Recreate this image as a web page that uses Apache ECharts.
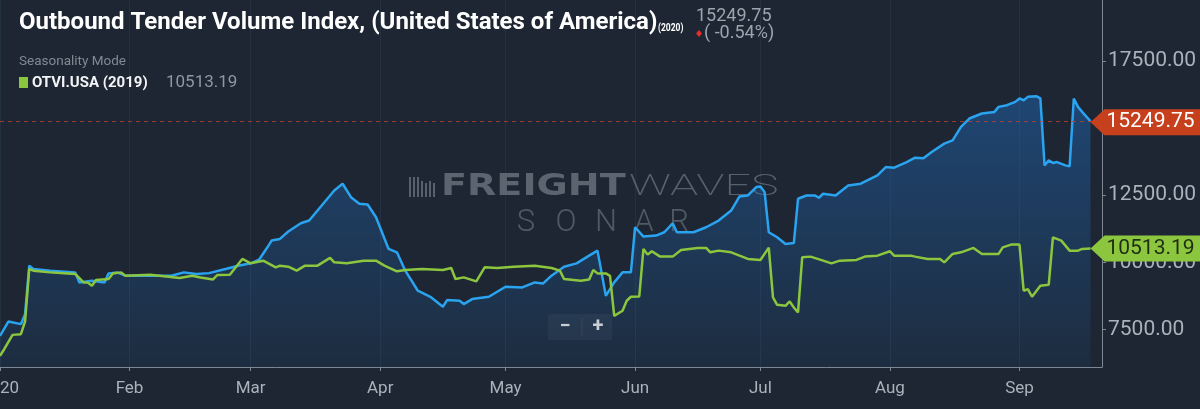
<!DOCTYPE html>
<html>
<head>
<meta charset="utf-8">
<script src="https://cdn.jsdelivr.net/npm/echarts@6/dist/echarts.min.js"></script>
<style>
  html, body { margin: 0; padding: 0; background: #1d2632; }
  #chart { width: 1200px; height: 409px; }
</style>
</head>
<body>
<div id="chart"></div>
<script>
// month labels on the time axis (by month number)
var monthLabels = ['2020', 'Feb', 'Mar', 'Apr', 'May', 'Jun', 'Jul', 'Aug', 'Sep', 'Oct', 'Nov', 'Dec'];
var yTicks = [7500, 10000, 12500, 15000, 17500];

// OTVI.USA 2020
var dates2020 = [
  '2020-01-01','2020-01-03','2020-01-06','2020-01-07','2020-01-08','2020-01-09','2020-01-13','2020-01-19',
  '2020-01-20','2020-01-23','2020-01-26','2020-01-27','2020-01-29','2020-01-31','2020-02-11','2020-02-14',
  '2020-02-17','2020-02-20','2020-02-24','2020-02-27','2020-03-01','2020-03-03','2020-03-05','2020-03-06',
  '2020-03-08','2020-03-10','2020-03-13','2020-03-15','2020-03-18','2020-03-21','2020-03-23','2020-03-25',
  '2020-03-27','2020-03-29','2020-03-31','2020-04-03','2020-04-05','2020-04-07','2020-04-10','2020-04-13',
  '2020-04-16','2020-04-17','2020-04-20','2020-04-21','2020-04-23','2020-04-27','2020-05-01','2020-05-05',
  '2020-05-08','2020-05-10','2020-05-12','2020-05-15','2020-05-18','2020-05-21','2020-05-23','2020-05-25',
  '2020-05-27','2020-05-29','2020-05-31','2020-06-01','2020-06-03','2020-06-06','2020-06-08','2020-06-10',
  '2020-06-11','2020-06-15','2020-06-18','2020-06-21','2020-06-24','2020-06-26','2020-06-28','2020-06-30',
  '2020-07-01','2020-07-02','2020-07-03','2020-07-05','2020-07-07','2020-07-09','2020-07-10','2020-07-12',
  '2020-07-14','2020-07-15','2020-07-16','2020-07-19','2020-07-22','2020-07-25','2020-07-29','2020-07-31',
  '2020-08-02','2020-08-05','2020-08-07','2020-08-09','2020-08-11','2020-08-14','2020-08-16','2020-08-18',
  '2020-08-20','2020-08-23','2020-08-26','2020-08-27','2020-08-29','2020-08-31','2020-09-01','2020-09-02',
  '2020-09-03','2020-09-05','2020-09-06','2020-09-07','2020-09-08','2020-09-09','2020-09-10','2020-09-12',
  '2020-09-13','2020-09-14','2020-09-15','2020-09-16','2020-09-18'
];
var values2020 = [
  7266, 7799, 7702, 8075, 9877, 9754, 9691, 9628,
  9255, 9318, 9255, 9590, 9628, 9505, 9505, 9628,
  9568, 9600, 9754, 9877, 9964, 10100, 10560, 10810,
  10873, 11150, 11456, 11556, 12116, 12676, 12926, 12426,
  12180, 12154, 11680, 10500, 10374, 9691, 8945, 8721,
  8348, 8597, 8572, 8448, 8634, 8721, 9094, 9068,
  9255, 9218, 9505, 9840, 9964, 10250, 10437, 8758,
  9255, 9628, 9628, 11307, 10960, 10997, 11120, 11456,
  11120, 11120, 11307, 11556, 11929, 12452, 12489, 12800,
  12825, 12613, 11120, 10933, 10685, 10720, 12366, 12489,
  12489, 12403, 12552, 12489, 12862, 12926, 13236, 13545,
  13522, 13731, 13895, 13870, 14105, 14418, 14541, 15038,
  15351, 15538, 15597, 15784, 15847, 15970, 16097, 16030,
  16157, 16183, 16100, 13609, 13795, 13700, 13731, 13609,
  13571, 16097, 15784, 15597, 15249.75
];

// OTVI.USA 2019 (seasonality, aligned to 2020 dates)
var dates2019 = [
  '2020-01-01','2020-01-02','2020-01-04','2020-01-06','2020-01-07','2020-01-08','2020-01-09','2020-01-13',
  '2020-01-19','2020-01-21','2020-01-22','2020-01-23','2020-01-24','2020-01-27','2020-01-28','2020-01-30',
  '2020-01-31','2020-02-06','2020-02-13','2020-02-16','2020-02-18','2020-02-21','2020-02-22','2020-02-25',
  '2020-02-28','2020-03-01','2020-03-04','2020-03-07','2020-03-08','2020-03-10','2020-03-12','2020-03-14',
  '2020-03-17','2020-03-20','2020-03-21','2020-03-24','2020-03-28','2020-03-31','2020-04-02','2020-04-05',
  '2020-04-07','2020-04-11','2020-04-16','2020-04-18','2020-04-19','2020-04-21','2020-04-24','2020-04-26',
  '2020-04-29','2020-05-03','2020-05-08','2020-05-12','2020-05-14','2020-05-15','2020-05-19','2020-05-21',
  '2020-05-22','2020-05-23','2020-05-25','2020-05-26','2020-05-27','2020-05-29','2020-05-30','2020-05-31',
  '2020-06-02','2020-06-03','2020-06-04','2020-06-05','2020-06-07','2020-06-10','2020-06-12','2020-06-16',
  '2020-06-18','2020-06-19','2020-06-21','2020-06-24','2020-06-28','2020-07-01','2020-07-03','2020-07-04',
  '2020-07-05','2020-07-07','2020-07-08','2020-07-09','2020-07-10','2020-07-11','2020-07-13','2020-07-16',
  '2020-07-18','2020-07-20','2020-07-24','2020-07-26','2020-07-29','2020-08-01','2020-08-02','2020-08-06',
  '2020-08-07','2020-08-10','2020-08-13','2020-08-14','2020-08-16','2020-08-18','2020-08-21','2020-08-23',
  '2020-08-27','2020-08-28','2020-08-30','2020-09-01','2020-09-02','2020-09-03','2020-09-04','2020-09-06',
  '2020-09-08','2020-09-09','2020-09-11','2020-09-13','2020-09-15','2020-09-16','2020-09-18'
];
var values2019 = [
  6519, 6769, 7303, 7329, 7800, 9754, 9691, 9628,
  9568, 9255, 9255, 9131, 9343, 9380, 9590, 9628,
  9505, 9542, 9418, 9505, 9440, 9366, 9530, 9542,
  10128, 9964, 10064, 9815, 9877, 9840, 9691, 9877,
  9877, 10165, 10001, 9964, 10064, 10064, 9877, 9666,
  9716, 9754, 9716, 9791, 9380, 9442, 9293, 9815,
  9790, 9840, 9877, 9791, 9691, 9380, 9318, 9360,
  9716, 9590, 9590, 9500, 8012, 8199, 8572, 8721,
  8730, 10500, 10288, 10412, 10214, 10214, 10462, 10537,
  10537, 10374, 10437, 10374, 10128, 10091, 10550, 8696,
  8423, 8385, 8546, 8323, 8137, 10187, 10214, 10064,
  9964, 10064, 10091, 10214, 10250, 10412, 10250, 10250,
  10214, 10128, 10128, 10001, 10313, 10374, 10537, 10313,
  10313, 10560, 10661, 10661, 8945, 9007, 8721, 9131,
  9168, 10933, 10810, 10437, 10437, 10500, 10513.19
];

function zip(ds, vs) {
  return ds.map(function (d, i) { return [d, vs[i]]; });
}

var DAY = 24 * 3600 * 1000;
var last2020 = values2020[values2020.length - 1];
var last2019 = values2019[values2019.length - 1];
var tagPath = 'path://M0,13L14,0L112,0L112,26L14,26Z';

var myChart = echarts.init(document.getElementById('chart'));

var option = {
  backgroundColor: '#1d2632',
  animation: false,
  textStyle: { fontFamily: 'Roboto' },
  grid: { left: 0, right: 98, top: 0, bottom: 42, containLabel: false, outerBoundsMode: 'none' },
  xAxis: {
    type: 'time',
    min: '2020-01-01',
    max: '2020-09-20 18:00',
    splitNumber: 9,
    minInterval: 28 * DAY,
    maxInterval: 31 * DAY,
    axisLine: { lineStyle: { color: '#7d8894', width: 1 } },
    axisTick: { show: true, length: 4, lineStyle: { color: '#7d8894' } },
    axisLabel: {
      color: '#aab2bb',
      fontSize: 17,
      margin: 13,
      showMinLabel: true,
      hideOverlap: false,
      formatter: function (val) {
        var d = new Date(val);
        return d.getDate() === 1 ? monthLabels[d.getMonth()] : '';
      }
    },
    splitLine: { show: true, lineStyle: { color: '#243140', width: 1 } }
  },
  yAxis: {
    type: 'value',
    position: 'right',
    min: 6108,
    max: 19760,
    axisLine: { show: true, lineStyle: { color: '#7d8894', width: 1 } },
    axisTick: { show: true, length: 4, lineStyle: { color: '#7d8894' }, customValues: yTicks },
    axisLabel: {
      customValues: yTicks,
      color: '#aab2bb',
      fontSize: 21,
      margin: 6,
      formatter: function (v) { return v.toFixed(2); }
    },
    splitLine: { show: false }
  },
  series: [
    {
      name: 'OTVI.USA (2020)',
      type: 'line',
      data: zip(dates2020, values2020),
      showSymbol: false,
      lineStyle: { color: '#2aa4f0', width: 2.5 },
      itemStyle: { color: '#2aa4f0' },
      areaStyle: {
        origin: 'start',
        color: new echarts.graphic.LinearGradient(0, 0, 0, 1, [
          { offset: 0, color: 'rgba(33,112,200,0.62)' },
          { offset: 1, color: 'rgba(33,112,200,0.13)' }
        ])
      },
      markLine: {
        silent: true,
        symbol: ['none', 'none'],
        label: { show: false },
        lineStyle: { color: 'rgba(196,62,44,0.8)', type: [4, 4], width: 1 },
        data: [{ yAxis: last2020 }]
      },
      markPoint: {
        silent: true,
        symbol: tagPath,
        symbolSize: [112, 26],
        symbolOffset: [56, 1],
        itemStyle: { color: '#c7401d' },
        label: {
          show: true, color: '#ffffff', fontSize: 21, offset: [4, 0],
          formatter: function (p) { return p.value.toFixed(2); }
        },
        data: [{ coord: [dates2020[dates2020.length - 1], last2020], value: last2020 }]
      },
      z: 2
    },
    {
      name: 'OTVI.USA (2019)',
      type: 'line',
      data: zip(dates2019, values2019),
      showSymbol: false,
      lineStyle: { color: '#8cc63f', width: 2.5 },
      itemStyle: { color: '#8cc63f' },
      markPoint: {
        silent: true,
        symbol: tagPath,
        symbolSize: [112, 26],
        symbolOffset: [56, 0],
        itemStyle: { color: '#8cc63f' },
        label: {
          show: true, color: '#1f2d12', fontSize: 21, offset: [4, 0],
          formatter: function (p) { return p.value.toFixed(2); }
        },
        data: [{ coord: [dates2019[dates2019.length - 1], last2019], value: last2019 }]
      },
      z: 3
    }
  ],
  graphic: [
    // title block
    { type: 'text', x: 19, y: 23, z: 10,
      style: { text: 'Outbound Tender Volume Index, (United States of America)', fill: '#ffffff',
               font: 'bold 24px Roboto', verticalAlign: 'middle' } },
    { type: 'text', x: 658, y: 28, scaleX: 0.85, z: 10,
      style: { text: '(2020)', fill: '#ffffff', font: 'bold 10px Roboto', verticalAlign: 'middle' } },
    { type: 'text', x: 696, y: 16, z: 10,
      style: { text: '15249.75', fill: '#9ca5ae', font: '18px Roboto', verticalAlign: 'middle' } },
    { type: 'text', x: 704, y: 33, z: 10,
      style: { text: '( -0.54%)', fill: '#9ca5ae', font: '18px Roboto', verticalAlign: 'middle' } },
    { type: 'polygon', z: 10, shape: { points: [[699, 30], [702, 33.5], [699, 37], [696, 33.5]] },
      style: { fill: '#e0302a' } },
    // legend block
    { type: 'text', x: 19, y: 62, z: 10,
      style: { text: 'Seasonality Mode', fill: '#808a94', font: '13.5px Roboto', verticalAlign: 'middle' } },
    { type: 'rect', z: 10, shape: { x: 19, y: 77, width: 9, height: 11 }, style: { fill: '#8cc63f' } },
    { type: 'text', x: 32, y: 83, z: 10,
      style: { text: 'OTVI.USA (2019)', fill: '#f2f4f6', font: 'bold 15px Roboto', verticalAlign: 'middle' } },
    { type: 'text', x: 166, y: 83, z: 10,
      style: { text: '10513.19', fill: '#8e98a2', font: '17px Roboto', verticalAlign: 'middle' } },
    // watermark
    { type: 'group', z: 1, children: [
      { type: 'rect', shape: { x: 409, y: 177, width: 2, height: 20 }, style: { fill: '#56616c' } },
      { type: 'rect', shape: { x: 413, y: 177, width: 2, height: 20 }, style: { fill: '#56616c' } },
      { type: 'rect', shape: { x: 417, y: 177, width: 2, height: 20 }, style: { fill: '#56616c' } },
      { type: 'rect', shape: { x: 421, y: 181, width: 2, height: 16 }, style: { fill: '#56616c' } },
      { type: 'rect', shape: { x: 425, y: 183, width: 2, height: 14 }, style: { fill: '#56616c' } },
      { type: 'rect', shape: { x: 429, y: 181, width: 2, height: 16 }, style: { fill: '#56616c' } },
      { type: 'rect', shape: { x: 433, y: 183, width: 2, height: 14 }, style: { fill: '#56616c' } }
    ] },
    { type: 'text', x: 441, y: 187, scaleX: 1.27, z: 1,
      style: { text: 'FREIGHT', fill: '#5a6570', font: 'bold 30px "DejaVu Sans"', verticalAlign: 'middle' } },
    { type: 'text', x: 629, y: 187, scaleX: 1.55, z: 1,
      style: { text: 'WAVES', fill: '#56616c', font: '200 30px Roboto', verticalAlign: 'middle' } },
    { type: 'text', x: 526, y: 223, z: 1,
      style: { text: 'S', fill: '#4f5a65', font: '300 31px Roboto', align: 'center', verticalAlign: 'middle' } },
    { type: 'text', x: 566, y: 223, z: 1,
      style: { text: 'O', fill: '#4f5a65', font: '300 31px Roboto', align: 'center', verticalAlign: 'middle' } },
    { type: 'text', x: 606, y: 223, z: 1,
      style: { text: 'N', fill: '#4f5a65', font: '300 31px Roboto', align: 'center', verticalAlign: 'middle' } },
    { type: 'text', x: 644, y: 223, z: 1,
      style: { text: 'A', fill: '#4f5a65', font: '300 31px Roboto', align: 'center', verticalAlign: 'middle' } },
    { type: 'text', x: 679, y: 223, z: 1,
      style: { text: 'R', fill: '#4f5a65', font: '300 31px Roboto', align: 'center', verticalAlign: 'middle' } },
    // zoom buttons
    { type: 'rect', z: 10, shape: { x: 548, y: 314, width: 64, height: 26, r: 2 },
      style: { fill: 'rgba(255,255,255,0.04)' } },
    { type: 'line', z: 10, shape: { x1: 582, y1: 318, x2: 582, y2: 336 },
      style: { stroke: 'rgba(255,255,255,0.08)', lineWidth: 1 } },
    { type: 'text', x: 565, y: 327, z: 10,
      style: { text: '\u2212', fill: '#c8ced4', font: 'bold 20px Roboto', align: 'center', verticalAlign: 'middle' } },
    { type: 'text', x: 598, y: 327, z: 10,
      style: { text: '+', fill: '#c8ced4', font: 'bold 20px Roboto', align: 'center', verticalAlign: 'middle' } }
  ]
};

myChart.setOption(option);
</script>
</body>
</html>
